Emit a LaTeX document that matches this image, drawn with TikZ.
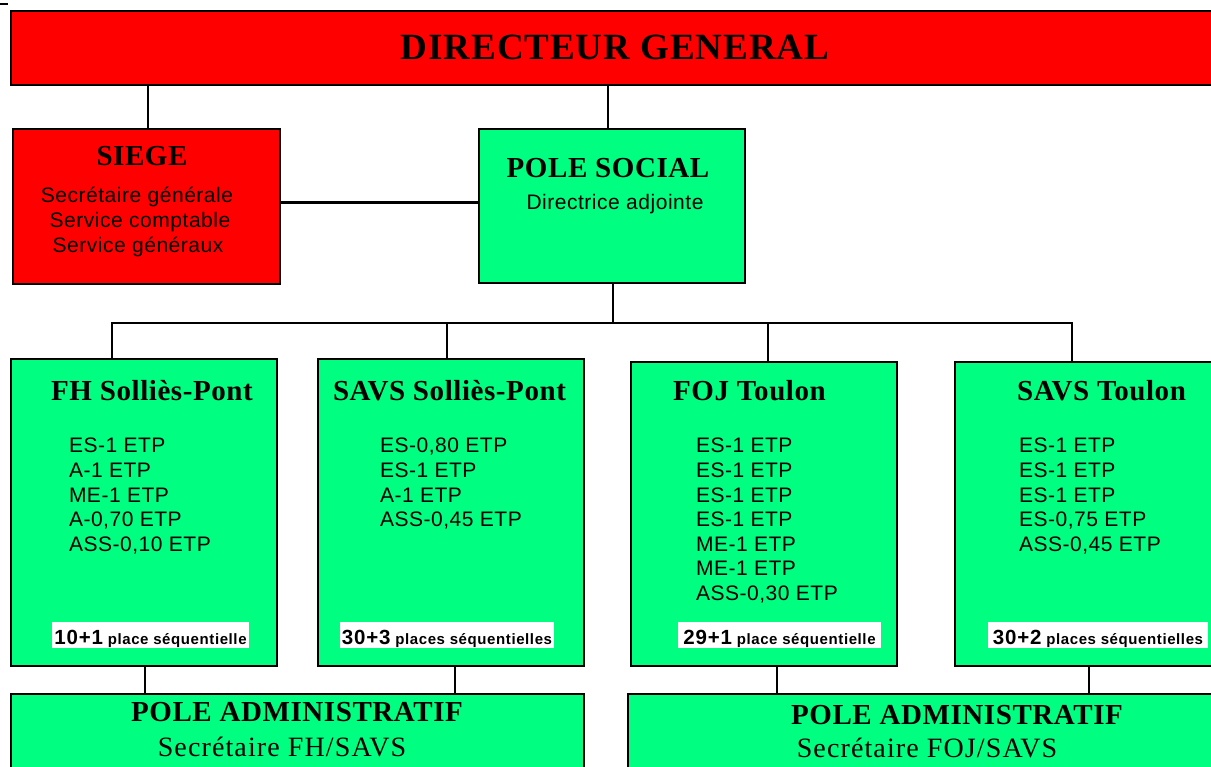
\documentclass[tikz,border=0pt]{standalone}
\usepackage{fontspec}
\setmainfont{Liberation Serif}
\newfontfamily\srfTitle{Liberation Serif}[LetterSpace=2]
\newfontfamily\srfDG{Liberation Serif}[LetterSpace=2.5]
\newfontfamily\srfSub{Liberation Serif}[LetterSpace=4]
\newfontfamily\snsBody{Liberation Sans}[LetterSpace=2.5]
\newfontfamily\snsLab{Liberation Sans}[LetterSpace=4]
\definecolor{orgred}{RGB}{255,0,0}
\definecolor{orggreen}{RGB}{0,255,128}
\begin{document}
\begin{tikzpicture}[x=1pt,y=-1pt,
  orgframe/.style={draw=black,line width=2.6pt,inner sep=0pt,outer sep=0pt},
  redbox/.style={orgframe,fill=orgred},
  greenbox/.style={orgframe,fill=orggreen},
  conn/.style={draw=black,line width=2.4pt},
  txt/.style={inner sep=0pt,outer sep=0pt,anchor=base,text=black},
  dgtitle/.style={txt,font={\srfDG\bfseries\fontsize{37}{37}\selectfont}},
  boxtitle/.style={txt,font={\srfTitle\bfseries\fontsize{29}{29}\selectfont}},
  subserif/.style={txt,font={\srfSub\fontsize{28}{28}\selectfont}},
  body/.style={txt,font={\snsBody\fontsize{21}{21}\selectfont}},
  etp/.style={body,anchor=base west},
  lab/.style={fill=white,inner sep=0pt,outer sep=0pt,text height=22pt,text depth=4pt,
    font={\snsLab\bfseries\fontsize{15}{15}\selectfont}}
]
\clip (0,0) rectangle (1211,767);
\useasboundingbox (0,0) rectangle (1211,767);

% stray mark
\draw[line width=1.5pt] (0,4) -- (8,4);

% boxes
\node[redbox,minimum width=1214pt,minimum height=74pt] (dg) at (618,48) {};
\node[redbox,minimum width=267pt,minimum height=155pt] (siege) at (146.5,206.5) {};
\node[greenbox,minimum width=266pt,minimum height=154pt] (ps) at (612,206) {};
\node[greenbox,minimum width=266pt,minimum height=307pt] (fh) at (144,512.5) {};
\node[greenbox,minimum width=266pt,minimum height=307pt] (savssp) at (451,512.5) {};
\node[greenbox,minimum width=266pt,minimum height=304pt] (foj) at (764,514) {};
\node[greenbox,minimum width=266pt,minimum height=304pt] (savst) at (1088,514) {};
\node[greenbox,minimum width=573pt,minimum height=96pt] (adm1) at (297.5,742) {};
\node[greenbox,minimum width=658pt,minimum height=96pt] (adm2) at (957,742) {};

% connectors
\draw[conn] ([xshift=1.5pt]siege.north) -- ([xshift=1.5pt]siege.north |- dg.south);
\draw[conn] ([xshift=-4pt]ps.north) -- ([xshift=-4pt]ps.north |- dg.south);
\draw[conn] ([yshift=4pt]siege.east) -- ([yshift=4pt]siege.east -| ps.west);
\coordinate (b1) at (112,323);
\coordinate (b2) at (447,323);
\coordinate (b3) at (768,323);
\coordinate (b4) at (1072,323);
\draw[conn] ([xshift=1pt]ps.south) -- ([xshift=1pt]ps.south |- b1);
\draw[conn] ([xshift=-1.2pt]b1) -- ([xshift=1.2pt]b4);
\draw[conn] (b1) -- (b1 |- fh.north);
\draw[conn] (b2) -- (b2 |- savssp.north);
\draw[conn] (b3) -- (b3 |- foj.north);
\draw[conn] (b4) -- (b4 |- savst.north);
\draw[conn] ([xshift=1pt]fh.south) -- ([xshift=1pt]fh.south |- adm1.north);
\draw[conn] ([xshift=4pt]savssp.south) -- ([xshift=4pt]savssp.south |- adm1.north);
\draw[conn] ([xshift=13pt]foj.south) -- ([xshift=13pt]foj.south |- adm2.north);
\draw[conn] ([xshift=1pt]savst.south) -- ([xshift=1pt]savst.south |- adm2.north);

% texts
\node[dgtitle] (dgt) at (615,60) {DIRECTEUR GENERAL};

\node[boxtitle] (siegt) at (142,166) {SIEGE};
\node[body] (sieg1) at (137,203) {Secrétaire générale};
\node[body] (sieg2) at (140,228) {Service comptable};
\node[body] (sieg3) at (138,253) {Service généraux};

\node[boxtitle] (pst) at (608,178) {POLE SOCIAL};
\node[body] (ps1) at (615,210) {Directrice adjointe};

\node[boxtitle] (fht) at (152,401) {FH Solliès-Pont};
\node[boxtitle] (savsspt) at (449.5,401) {SAVS Solliès-Pont};
\node[boxtitle] (fojt) at (749.5,401) {FOJ Toulon};
\node[boxtitle] (savstt) at (1101.5,401) {SAVS Toulon};

\foreach \t [count=\i] in {ES-1 ETP, A-1 ETP, ME-1 ETP, {A-0,70 ETP}, {ASS-0,10 ETP}}
  \node[etp] (fh\i) at (69,{453+24.5*(\i-1)}) {\t};
\foreach \t [count=\i] in {{ES-0,80 ETP}, ES-1 ETP, A-1 ETP, {ASS-0,45 ETP}}
  \node[etp] (savssp\i) at (380,{453+24.5*(\i-1)}) {\t};
\foreach \t [count=\i] in {ES-1 ETP, ES-1 ETP, ES-1 ETP, ES-1 ETP, ME-1 ETP, ME-1 ETP, {ASS-0,30 ETP}}
  \node[etp] (foj\i) at (696,{453+24.5*(\i-1)}) {\t};
\foreach \t [count=\i] in {ES-1 ETP, ES-1 ETP, ES-1 ETP, {ES-0,75 ETP}, {ASS-0,45 ETP}}
  \node[etp] (savst\i) at (1019,{453+24.5*(\i-1)}) {\t};

\node[lab,minimum width=197pt] (fhl) at (150.5,635) {{\fontsize{20.5}{21}\selectfont 10+1} place séquentielle};
\node[lab,minimum width=214pt] (savsspl) at (447,635) {{\fontsize{20.5}{21}\selectfont 30+3} places séquentielles};
\node[lab,minimum width=203pt] (fojl) at (779.5,635) {{\fontsize{20.5}{21}\selectfont 29+1} place séquentielle};
\node[lab,minimum width=220pt] (savstl) at (1098,635) {{\fontsize{20.5}{21}\selectfont 30+2} places séquentielles};

\node[boxtitle] (adm1t) at (297,721) {POLE ADMINISTRATIF};
\node[subserif] (adm1s) at (282,756) {Secrétaire FH/SAVS};
\node[boxtitle] (adm2t) at (957,724) {POLE ADMINISTRATIF};
\node[subserif] (adm2s) at (927,757) {Secrétaire FOJ/SAVS};
\end{tikzpicture}
\end{document}
